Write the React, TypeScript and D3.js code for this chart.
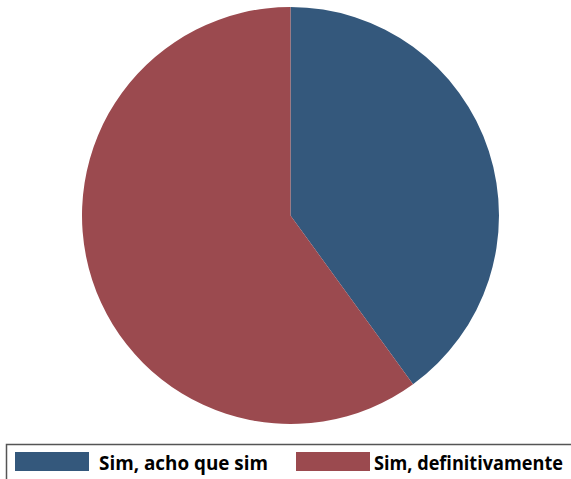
import React from "react";
import * as d3 from "d3";

const categories = ["Sim, acho que sim", "Sim, definitivamente"];
const values = [40, 60];
const colors = ["#34587C", "#9B4A4F"];

export default function App() {
  const width = 571, height = 479;
  const cx = 290.5, cy = 215.5, r = 208.5;
  const pie = d3.pie<number>().sort(null).value((d) => d)(values);
  const arc = d3.arc<d3.PieArcDatum<number>>().innerRadius(0).outerRadius(r);
  const legendX = [15, 296];
  const textX = [99, 374];
  const textLen = [169, 189];
  return (
    <svg width={width} height={height} style={{ position: "absolute", left: 0, top: 0 }}>
      <g transform={`translate(${cx},${cy})`}>
        {pie.map((p, i) => (
          <path key={i} d={arc(p) || ""} fill={colors[i]} />
        ))}
      </g>
      <rect x={6.5} y={444.5} width={580} height={40} fill="none" stroke="#555" strokeWidth={1.5} />
      {categories.map((c, i) => (
        <g key={c}>
          <rect x={legendX[i]} y={452} width={74} height={19} fill={colors[i]} />
          <text
            x={textX[i]}
            y={470}
            fontFamily="Open Sans, sans-serif"
            fontWeight="bold"
            fontSize={19}
            fill="#000"
            textLength={textLen[i]}
            lengthAdjust="spacingAndGlyphs"
          >
            {c}
          </text>
        </g>
      ))}
    </svg>
  );
}
